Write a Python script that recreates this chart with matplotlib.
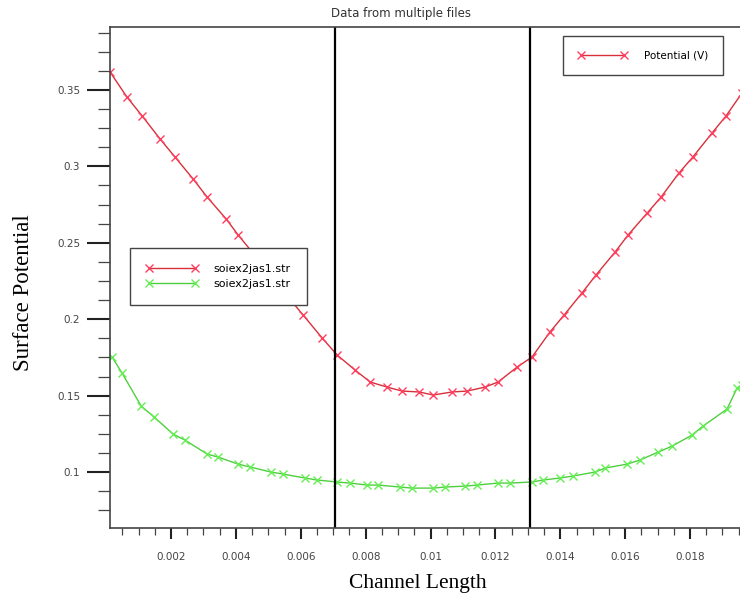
import matplotlib
matplotlib.use("Agg")
import matplotlib.pyplot as plt
from matplotlib.ticker import MultipleLocator, FormatStrFormatter

# red curve (Potential)
red_x = [0.00012, 0.00064, 0.00111, 0.00166, 0.00212, 0.00268, 0.00311, 0.00370,
         0.00407, 0.00465, 0.00511, 0.00558, 0.00607, 0.00666, 0.00712, 0.00767,
         0.00814, 0.00866, 0.00912, 0.00965, 0.01008, 0.01066, 0.01113, 0.01168,
         0.01208, 0.01267, 0.01313, 0.01368, 0.01412, 0.01467, 0.01510, 0.01569,
         0.01609, 0.01668, 0.01711, 0.01766, 0.01809, 0.01868, 0.01911, 0.01960]
red_y = [0.3618, 0.3454, 0.3330, 0.3180, 0.3062, 0.2918, 0.2800, 0.2656,
         0.2551, 0.2401, 0.2276, 0.2152, 0.2028, 0.1877, 0.1766, 0.1668,
         0.1589, 0.1556, 0.1530, 0.1524, 0.1504, 0.1524, 0.1530, 0.1556,
         0.1589, 0.1687, 0.1753, 0.1916, 0.2028, 0.2172, 0.2289, 0.2440,
         0.2551, 0.2695, 0.2800, 0.2957, 0.3062, 0.3219, 0.3330, 0.3480]

# green curve
green_x = [0.00018, 0.00049, 0.00108, 0.00148, 0.00206, 0.00243, 0.00311, 0.00345,
           0.00407, 0.00444, 0.00508, 0.00545, 0.00613, 0.00650, 0.00712, 0.00752,
           0.00804, 0.00838, 0.00906, 0.00943, 0.01008, 0.01045, 0.01106, 0.01143,
           0.01208, 0.01245, 0.01313, 0.01347, 0.01399, 0.01439, 0.01507, 0.01538,
           0.01606, 0.01646, 0.01702, 0.01745, 0.01806, 0.01840, 0.01914, 0.01945,
           0.01960]
green_y = [0.1753, 0.1648, 0.1432, 0.1360, 0.1249, 0.1209, 0.1118, 0.1098,
           0.1052, 0.1033, 0.1000, 0.0987, 0.0961, 0.0948, 0.0935, 0.0928,
           0.0915, 0.0915, 0.0902, 0.0895, 0.0895, 0.0902, 0.0908, 0.0915,
           0.0928, 0.0928, 0.0935, 0.0948, 0.0961, 0.0974, 0.1000, 0.1026,
           0.1052, 0.1079, 0.1131, 0.1170, 0.1242, 0.1301, 0.1412, 0.1550,
           0.1570]

vlines_x = [0.00706, 0.01307]

fig = plt.figure(figsize=(7.4, 6.02), dpi=100)
ax = fig.add_axes([110 / 740, 1 - 528 / 602, 630 / 740, 501 / 602])

red_line, = ax.plot(red_x, red_y, color="#d8303a", lw=1.0, marker="x",
                    markersize=6, markeredgecolor="#ff4060", markeredgewidth=1.0)
green_line, = ax.plot(green_x, green_y, color="#4fcf3f", lw=1.0, marker="x",
                      markersize=6, markeredgecolor="#66ee55", markeredgewidth=1.0)
for xv in vlines_x:
    ax.axvline(xv, color="black", lw=1.6)

ax.set_xlim(0.000119, 0.01954)
ax.set_ylim(0.0634, 0.3912)

ax.xaxis.set_major_locator(MultipleLocator(0.002))
ax.xaxis.set_minor_locator(MultipleLocator(0.0005))
ax.yaxis.set_major_locator(MultipleLocator(0.05))
ax.yaxis.set_minor_locator(MultipleLocator(0.0125))
ax.xaxis.set_major_formatter(FormatStrFormatter("%g"))
ax.yaxis.set_major_formatter(FormatStrFormatter("%g"))

ax.tick_params(axis="y", which="major", length=16.5, width=1.5, pad=5,
               labelsize=7.5, labelcolor="#444444", color="#222222")
ax.tick_params(axis="y", which="minor", length=8.5, width=0.9, color="#444444")
ax.tick_params(axis="x", which="major", length=8, width=1.5, pad=9,
               labelsize=7.5, labelcolor="#444444", color="#222222")
ax.tick_params(axis="x", which="minor", length=5, width=0.9, color="#444444")

for s in ["left", "top", "bottom"]:
    ax.spines[s].set_color("#444444")
    ax.spines[s].set_linewidth(1.2)
ax.spines["right"].set_visible(False)

ax.set_title("Data from multiple files", fontsize=8.5, color="#333333",
             x=(401 - 110) / 630, pad=7)
ax.set_xlabel("Channel Length", family="Liberation Serif", fontsize=15.5)
ax.set_ylabel("Surface Potential", family="Liberation Serif", fontsize=16.5)
ax.xaxis.set_label_coords((418 - 110) / 630, (528 - 574) / 501)
ax.yaxis.set_label_coords((34 - 110) / 630, (528 - 293) / 501)

leg1 = ax.legend([red_line, green_line], ["soiex2jas1.str", "soiex2jas1.str"],
                 loc="upper left", bbox_to_anchor=(20 / 630, (528 - 248) / 501),
                 fontsize=8, numpoints=2, handlelength=4.7, handletextpad=1.35,
                 borderpad=1.45, borderaxespad=0, labelspacing=0.45,
                 fancybox=False, framealpha=1, edgecolor="#444444")
leg1.get_frame().set_linewidth(1.0)
ax.add_artist(leg1)

leg2 = ax.legend([red_line], ["Potential (V)"],
                 loc="upper left", bbox_to_anchor=(453 / 630, (528 - 36) / 501),
                 fontsize=7.5, numpoints=2, handlelength=4.8, handletextpad=1.6,
                 borderpad=1.4, borderaxespad=0,
                 fancybox=False, framealpha=1, edgecolor="#444444")
leg2.get_frame().set_linewidth(1.0)

fig.savefig("out.png", dpi=100)
